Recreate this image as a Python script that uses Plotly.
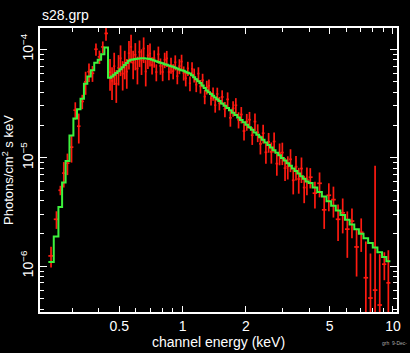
import numpy as np
import plotly.graph_objects as go

# ---- data ----
UNIT = 1e-5  # flux values below are in units of 1e-5 photons/cm^2/s/keV

energy = [
    0.237, 0.2515, 0.2625, 0.2725, 0.2835, 0.2965, 0.309, 0.321, 0.3335, 0.346, 0.359, 0.373, 0.3875, 0.4025, 0.4175, 0.4325,
    0.452, 0.462, 0.473, 0.484, 0.496, 0.507, 0.519, 0.531, 0.543, 0.556, 0.569, 0.582, 0.596, 0.610, 0.624, 0.638, 0.653,
    0.668, 0.684, 0.700, 0.716, 0.733, 0.750, 0.767, 0.785, 0.804, 0.822, 0.841, 0.861, 0.881, 0.902, 0.923, 0.944, 0.966,
    0.989, 1.012, 1.035, 1.059, 1.084, 1.109, 1.135, 1.161, 1.189, 1.216, 1.245, 1.274, 1.303, 1.334, 1.365, 1.396, 1.429,
    1.462, 1.496,
    1.542, 1.589, 1.637, 1.687, 1.738, 1.791, 1.845, 1.901, 1.959, 2.018, 2.080, 2.143, 2.208, 2.275, 2.344, 2.415, 2.489,
    2.564, 2.642, 2.723, 2.805, 2.891, 2.979, 3.069, 3.162, 3.258, 3.357, 3.459, 3.565, 3.673, 3.784, 3.899,
    4.046, 4.256, 4.477, 4.710, 4.955, 5.212, 5.483, 5.768, 6.067, 6.383, 6.714, 7.063, 7.430, 7.816, 8.222, 8.650, 9.099,
    9.506,
]

flux = [
    0.124, 0.27, 0.50, 0.72, 0.89, 1.25, 2.74, 1.95, 3.3, 5.0, 6.2, 6.0, 10.0, 8.5, 10.5, 14.0,
    6.14, 5.11, 6.98, 4.80, 6.73, 8.25, 5.96, 7.48, 6.22, 9.19, 10.52, 7.50, 8.89, 6.64, 9.44, 7.89, 10.16,
    6.24, 8.77, 9.12, 7.15, 8.26, 6.16, 8.98, 7.02, 6.17, 7.99, 8.25, 6.17, 7.14, 6.28, 7.58, 5.65, 6.99,
    7.70, 6.04, 5.39, 6.66, 4.85, 6.60, 5.78, 4.72, 5.97, 4.55, 5.19, 3.66, 4.47, 4.61, 3.52, 3.89, 3.05,
    3.87, 3.18,
    3.63, 2.81, 3.45, 2.33, 2.85, 3.04, 2.24, 2.50, 1.76, 2.15, 2.24, 1.61, 2.15, 1.71, 1.34, 1.68, 1.12,
    1.40, 1.13, 1.41, 0.881, 1.10, 1.114, 0.800, 0.829, 0.965, 0.618, 0.825, 0.635, 0.793, 0.530, 0.629,
    0.66, 0.47, 0.58, 0.33, 0.45, 0.41, 0.27, 0.31, 0.219, 0.26, 0.150, 0.205, 0.078, 0.0507, 0.06, 0.0437, 0.104,
    0.07,
]

flux_err = [
    0.027, 0.05, 0.05, 0.19, 0.20, 0.35, 0.5, 0.6, 0.5, 1.2, 1.2, 1.0, 1.3, 1.2, 1.3, 2.0,
    2.0, 1.7, 2.3, 1.6, 2.1, 2.6, 1.8, 2.2, 1.9, 2.7, 3.1, 2.2, 2.5, 1.9, 2.6, 2.1, 2.7,
    1.7, 2.2, 2.2, 1.3, 1.5, 1.1, 1.6, 1.2, 1.1, 1.3, 1.4, 1.0, 1.2, 1.0, 1.2, 0.9, 1.1,
    1.2, 0.9, 0.85, 1.0, 0.75, 1.0, 0.85, 0.7, 0.85, 0.65, 0.75, 0.55, 0.65, 0.65, 0.5, 0.55, 0.45,
    0.55, 0.45,
    0.55, 0.45, 0.55, 0.40, 0.47, 0.50, 0.38, 0.43, 0.32, 0.38, 0.40, 0.30, 0.40, 0.32, 0.27, 0.33, 0.24,
    0.29, 0.25, 0.30, 0.20, 0.25, 0.26, 0.19, 0.20, 0.23, 0.16, 0.21, 0.17, 0.21, 0.15, 0.18,
    0.14, 0.13, 0.15, 0.11, 0.13, 0.13, 0.10, 0.11, 0.10, 0.08, 0.07, 0.07, 0.09, 0.08, 0.78, 0.085, 0.03,
    0.07,
]

model = [
    0.109, 0.187, 0.35, 0.59, 0.93, 1.6, 2.3, 2.8, 3.5, 4.8, 5.6, 6.4, 7.5, 8.0, 9.0, 10.4,
    5.47, 5.60, 5.81, 6.04, 6.28, 6.55, 6.84, 7.14, 7.48, 7.82, 7.98, 8.04, 8.11, 8.17, 8.22, 8.26, 8.26,
    8.22, 8.18, 8.13, 8.02, 7.89, 7.76, 7.64, 7.52, 7.41, 7.29, 7.19, 7.08, 6.98, 6.89, 6.76, 6.64, 6.52,
    6.41, 6.32, 6.19, 6.08, 5.96, 5.75, 5.52, 5.30, 5.08, 4.88, 4.63, 4.40, 4.17, 4.02, 3.86, 3.72, 3.58,
    3.45, 3.33,
    3.16, 3.01, 2.87, 2.74, 2.60, 2.47, 2.35, 2.23, 2.12, 2.01, 1.905, 1.81, 1.71, 1.63, 1.54, 1.46, 1.38,
    1.31, 1.24, 1.17, 1.11, 1.05, 0.993, 0.940, 0.889, 0.841, 0.796, 0.753, 0.713, 0.675, 0.637, 0.601,
    0.583, 0.530, 0.481, 0.437, 0.396, 0.360, 0.326, 0.295, 0.267, 0.242, 0.219, 0.199, 0.180, 0.163, 0.148,
    0.134, 0.121, 0.111,
]

x_major = [0.5, 1, 2, 5, 10]
x_major_text = ["0.5", "1", "2", "5", "10"]
x_minor = [0.3, 0.4, 0.6, 0.7, 0.8, 0.9, 3, 4, 6, 7, 8, 9]
y_major = [1e-6, 1e-5, 1e-4]
y_major_text = ["10<sup>\u22126</sup>", "10<sup>\u22125</sup>", "10<sup>\u22124</sup>"]
y_minor = [4e-7, 5e-7, 6e-7, 7e-7, 8e-7, 9e-7,
           2e-6, 3e-6, 4e-6, 5e-6, 6e-6, 7e-6, 8e-6, 9e-6,
           2e-5, 3e-5, 4e-5, 5e-5, 6e-5, 7e-5, 8e-5, 9e-5]

assert len(energy) == len(flux) == len(flux_err) == len(model), (len(energy), len(flux), len(flux_err), len(model))

# ---- derived arrays ----
e = np.array(energy)
f = np.array(flux) * UNIT
ferr = np.array(flux_err) * UNIT
m = np.array(model) * UNIT
mids = np.sqrt(e[:-1] * e[1:])
edges = np.concatenate([[e[0] ** 2 / mids[0]], mids, [e[-1] ** 2 / mids[-1]]])
ex_plus = edges[1:] - e
ex_minus = e - edges[:-1]
ferr_minus = np.minimum(ferr, 0.995 * f)

RED = "#ff1a10"
GREEN = "#3df23d"
FONT = "Liberation Sans, Arial, sans-serif"

fig = go.Figure()
fig.add_trace(go.Scatter(
    x=e, y=f, mode="markers",
    marker=dict(size=1, color=RED),
    error_x=dict(type="data", symmetric=False, array=ex_plus, arrayminus=ex_minus,
                 color=RED, thickness=1.7, width=0),
    error_y=dict(type="data", symmetric=False, array=ferr, arrayminus=ferr_minus,
                 color=RED, thickness=1.7, width=0),
    hoverinfo="skip",
))
fig.add_trace(go.Scatter(
    x=edges, y=np.concatenate([m, [m[-1]]]), mode="lines",
    line=dict(color=GREEN, width=2, shape="hv"),
    hoverinfo="skip",
))

axis_common = dict(
    type="log", showgrid=False, zeroline=False,
    showline=True, linecolor="white", linewidth=1.5, mirror="ticks",
    ticks="inside", tickcolor="white", tickwidth=1.2,
    automargin=False,
    tickfont=dict(family=FONT, size=14, color="white"),
)

fig.update_layout(
    width=410, height=353,
    margin=dict(l=40, r=13, t=28, b=41),
    paper_bgcolor="black", plot_bgcolor="black",
    showlegend=False,
    xaxis=dict(axis_common, range=[np.log10(0.21), np.log10(10.45)],
               tickmode="array", tickvals=x_major, ticktext=x_major_text, ticklen=6,
               minor=dict(tickmode="array", tickvals=x_minor, ticks="inside", ticklen=4,
                          tickcolor="white", tickwidth=1.2)),
    yaxis=dict(axis_common, range=[-6.424, -3.804],
               tickmode="array", tickvals=y_major, ticktext=y_major_text, ticklen=7,
               tickangle=-90,
               minor=dict(tickmode="array", tickvals=y_minor, ticks="inside", ticklen=4,
                          tickcolor="white", tickwidth=1.2)),
    annotations=[
        dict(text="s28.grp", xref="paper", yref="paper", x=0, y=1, xanchor="left", yanchor="bottom",
             yshift=3, showarrow=False, font=dict(family=FONT, size=14, color="white")),
        dict(text="channel energy (keV)", xref="paper", yref="paper", x=0.5, y=0,
             xanchor="center", yanchor="middle", yshift=-30, showarrow=False,
             font=dict(family=FONT, size=14, color="white")),
        dict(text="Photons/cm<sup>2</sup> s keV", xref="paper", yref="paper", x=0, y=0.5,
             xanchor="center", yanchor="middle", xshift=-32, textangle=-90, showarrow=False,
             font=dict(family=FONT, size=13, color="white")),
        dict(text="grh  9-Dec-", xref="paper", yref="paper", x=1, y=0, xanchor="right",
             yanchor="middle", xshift=12, yshift=-31, showarrow=False,
             font=dict(family=FONT, size=5, color="#aaaaaa")),
    ],
)

fig.write_html("out.html", config={"displayModeBar": False},
               post_script="document.body.style.margin='0';")
